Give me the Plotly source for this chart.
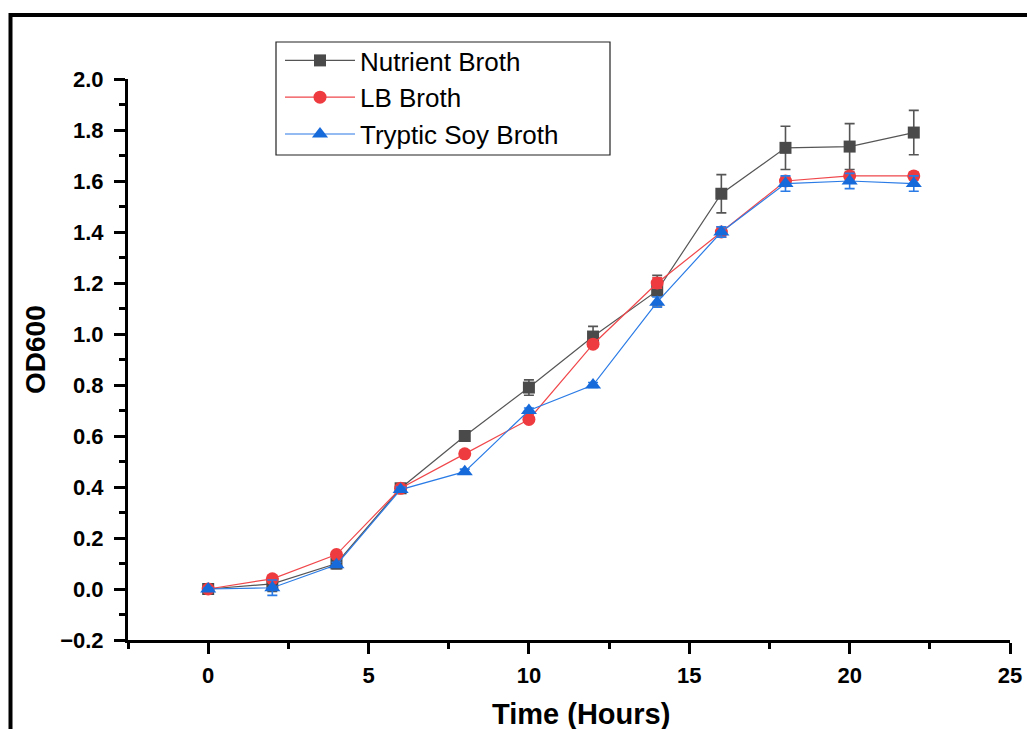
import plotly.graph_objects as go

# ---- data ----
time_h = [0, 2, 4, 6, 8, 10, 12, 14, 16, 18, 20, 22]

nutrient = [0.00, 0.02, 0.10, 0.395, 0.60, 0.79, 0.99, 1.17, 1.55, 1.73, 1.735, 1.79]
nutrient_err = [0.01, 0.03, 0.02, 0.01, 0.01, 0.03, 0.04, 0.06, 0.075, 0.085, 0.09, 0.087]

lb = [0.00, 0.04, 0.135, 0.395, 0.53, 0.665, 0.96, 1.20, 1.40, 1.60, 1.62, 1.62]
lb_err = [0.005, 0.01, 0.01, 0.01, 0.01, 0.01, 0.01, 0.02, 0.02, 0.015, 0.015, 0.015]

tsb = [0.00, 0.005, 0.095, 0.39, 0.46, 0.70, 0.80, 1.125, 1.40, 1.59, 1.60, 1.59]
tsb_err = [0.005, 0.03, 0.01, 0.01, 0.01, 0.01, 0.01, 0.02, 0.02, 0.03, 0.03, 0.03]

series_names = ["Nutrient Broth", "LB Broth", "Tryptic Soy Broth"]

# ---- layout geometry (pixels) ----
W, H = 1027, 729
L, R, T, B = 128, 17, 79, 89
PW, PH = W - L - R, H - T - B


def px_x(x):
    return (x - L) / PW


def px_y(y):
    return (H - B - y) / PH


FONT = "Arial, Liberation Sans, sans-serif"

fig = go.Figure()

styles = [
    dict(name=series_names[0], y=nutrient, err=nutrient_err, line="#555555", mk="#4a4a4a", sym="square", size=12),
    dict(name=series_names[1], y=lb, err=lb_err, line="#f0474b", mk="#ee3b3f", sym="circle", size=13),
    dict(name=series_names[2], y=tsb, err=tsb_err, line="#2a7be6", mk="#176ad9", sym="triangle-up", size=14),
]

for s in styles:
    fig.add_trace(go.Scatter(
        x=time_h, y=s["y"], name=s["name"], mode="lines+markers",
        line=dict(color=s["line"], width=1.2),
        marker=dict(symbol=s["sym"], size=s["size"], color=s["mk"], line=dict(width=0)),
        error_y=dict(type="data", array=s["err"], visible=True, color=s["line"], thickness=1.6, width=5),
    ))

axis_common = dict(
    showline=True, linecolor="black", linewidth=3, mirror=False,
    showgrid=False, zeroline=False, automargin=False,
    ticks="outside", ticklen=11, tickwidth=2.5, tickcolor="black",
    tickfont=dict(family=FONT, size=22, color="black", weight="bold"),
)

fig.update_layout(
    width=W, height=H,
    margin=dict(l=L, r=R, t=T, b=B, autoexpand=False),
    paper_bgcolor="white", plot_bgcolor="white",
    showlegend=True,
    legend=dict(
        x=px_x(280), y=px_y(37), xanchor="left", yanchor="top",
        bgcolor="rgba(0,0,0,0)", borderwidth=0,
        font=dict(family=FONT, size=26, color="black"),
        itemwidth=70, tracegroupgap=0,
    ),
    xaxis=dict(
        range=[-2.5, 25], tickvals=[0, 5, 10, 15, 20, 25],
        minor=dict(tickvals=[-2.5, 2.5, 7.5, 12.5, 17.5, 22.5], ticklen=6, tickwidth=2.5,
                   tickcolor="black", ticks="outside"),
        ticklabelstandoff=3,
        **axis_common,
    ),
    yaxis=dict(
        range=[-0.2, 2.0], tickvals=[-0.2, 0, 0.2, 0.4, 0.6, 0.8, 1.0, 1.2, 1.4, 1.6, 1.8, 2.0],
        tickformat=".1f",
        minor=dict(tickvals=[-0.1, 0.1, 0.3, 0.5, 0.7, 0.9, 1.1, 1.3, 1.5, 1.7, 1.9],
                   ticklen=6, tickwidth=2.5, tickcolor="black", ticks="outside"),
        ticklabelstandoff=6,
        **axis_common,
    ),
    annotations=[
        dict(text="Time (Hours)", xref="paper", yref="paper", x=px_x(581), y=px_y(714),
             xanchor="center", yanchor="middle", showarrow=False,
             font=dict(family=FONT, size=29, color="black", weight="bold")),
        dict(text="OD600", xref="paper", yref="paper", x=px_x(35), y=px_y(350),
             xanchor="center", yanchor="middle", showarrow=False, textangle=-90,
             font=dict(family=FONT, size=28, color="black", weight="bold")),
    ],
    shapes=[
        # outer frame (extends past right and bottom edges)
        dict(type="rect", xref="paper", yref="paper",
             x0=px_x(10.5), y0=px_y(760), x1=px_x(1060), y1=px_y(15),
             line=dict(color="black", width=4), fillcolor="rgba(0,0,0,0)", layer="above"),
        # legend box
        dict(type="rect", xref="paper", yref="paper",
             x0=px_x(276), y0=px_y(155), x1=px_x(610), y1=px_y(42),
             line=dict(color="#222222", width=1.2), fillcolor="rgba(0,0,0,0)", layer="above"),
    ],
)

fig.write_html("out.html")
